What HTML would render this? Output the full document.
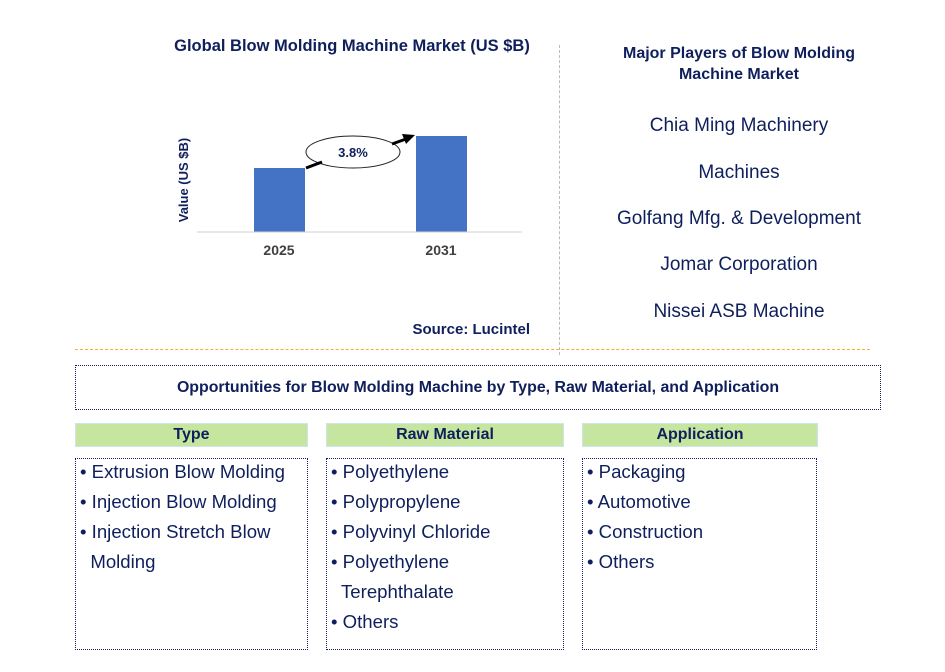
<!DOCTYPE html>
<html><head><meta charset="utf-8"><style>
body{margin:0;width:945px;height:672px;background:#fff;position:relative;font-family:"Liberation Sans",sans-serif;color:#0f1f5c;overflow:hidden}
.a{position:absolute}
.b{font-weight:bold}
.hdr{position:absolute;background:#c6e6a0;border:1px solid #cfe3f0;height:22px;line-height:22px;text-align:center;font-weight:bold;font-size:16px;top:423px}
.list{position:absolute;border:1.5px dotted #0f1f5c;top:458px;height:192px;font-size:18.6px;line-height:30px;box-sizing:border-box;padding:0 4px}
.list div{white-space:nowrap;position:relative;top:-2px}
.pl{position:absolute;width:360px;left:559px;text-align:center;font-size:19px}
</style></head><body>
<div class="a b" style="left:150px;top:37px;width:404px;text-align:center;font-size:16.5px">Global Blow Molding Machine Market (US $B)</div>
<svg class="a" style="left:0;top:0" width="560" height="345">
<g id="g"></g>
<text x="188" y="180" transform="rotate(-90 188 180)" text-anchor="middle" font-size="13" font-weight="bold" fill="#0f1f5c" font-family="Liberation Sans">Value (US $B)</text>
<line x1="197" y1="232" x2="522" y2="232" stroke="#d0d0d0"/>
<ellipse cx="353" cy="152" rx="47" ry="16" fill="#fff" stroke="#222"/>
<text x="353" y="157" text-anchor="middle" font-size="13" font-weight="bold" fill="#0f1f5c" font-family="Liberation Sans">3.8%</text>
<line x1="306" y1="168" x2="322" y2="162" stroke="#000" stroke-width="3"/>
<line x1="392" y1="144" x2="406" y2="139" stroke="#000" stroke-width="3"/>
<polygon points="415,135 402,134 406,144" fill="#000"/>
<text x="530" y="334" text-anchor="end" font-size="15" font-weight="bold" fill="#0f1f5c" font-family="Liberation Sans">Source: Lucintel</text>
</svg>
<script>
const categories=["2025","2031"];
const values=[2.0,3.0];
const centers=[279,441];
const y=v=>232-v*32;
const g=document.getElementById('g');
const ns='http://www.w3.org/2000/svg';
categories.forEach((c,i)=>{
 const r=document.createElementNS(ns,'rect');
 
 
 r.setAttribute('x',centers[i]-25);r.setAttribute('width',51);
 r.setAttribute('y',y(values[i]));r.setAttribute('height',232-y(values[i]));
 r.setAttribute('fill','#4472c4');g.appendChild(r);
 const t=document.createElementNS(ns,'text');
 
 
 t.setAttribute('x',centers[i]);t.setAttribute('y',255);t.setAttribute('text-anchor','middle');
 t.setAttribute('font-size','14');t.setAttribute('font-weight','bold');t.setAttribute('fill','#404040');
 t.setAttribute('font-family','Liberation Sans');t.textContent=c;g.appendChild(t);
});
</script>
<div class="a" style="left:559px;top:45px;height:310px;border-left:1px dashed #bbb"></div>
<div class="a" style="left:75px;top:349px;width:795px;border-top:1px dashed #f0b429"></div>
<div class="pl b" style="top:43px;font-size:16px;line-height:21px">Major Players of Blow Molding<br>Machine Market</div>
<div class="pl" style="top:115px">Chia Ming Machinery</div>
<div class="pl" style="top:162px">Machines</div>
<div class="pl" style="top:208px">Golfang Mfg. &amp; Development</div>
<div class="pl" style="top:254px">Jomar Corporation</div>
<div class="pl" style="top:301px">Nissei ASB Machine</div>
<div class="a b" style="left:75px;top:365px;width:804px;height:43px;border:1.5px dotted #0f1f5c;text-align:center;line-height:43px;font-size:15.9px">Opportunities for Blow Molding Machine by Type, Raw Material, and Application</div>
<div class="hdr" style="left:75px;width:231px">Type</div>
<div class="hdr" style="left:326px;width:236px">Raw Material</div>
<div class="hdr" style="left:582px;width:234px">Application</div>
<div class="list" style="left:75px;width:233px">
<div>• Extrusion Blow Molding</div><div>• Injection Blow Molding</div><div>• Injection Stretch Blow</div><div>&nbsp; Molding</div></div>
<div class="list" style="left:326px;width:238px">
<div>• Polyethylene</div><div>• Polypropylene</div><div>• Polyvinyl Chloride</div><div>• Polyethylene</div><div>&nbsp; Terephthalate</div><div>• Others</div></div>
<div class="list" style="left:582px;width:235px">
<div>• Packaging</div><div>• Automotive</div><div>• Construction</div><div>• Others</div></div>
</body></html>
